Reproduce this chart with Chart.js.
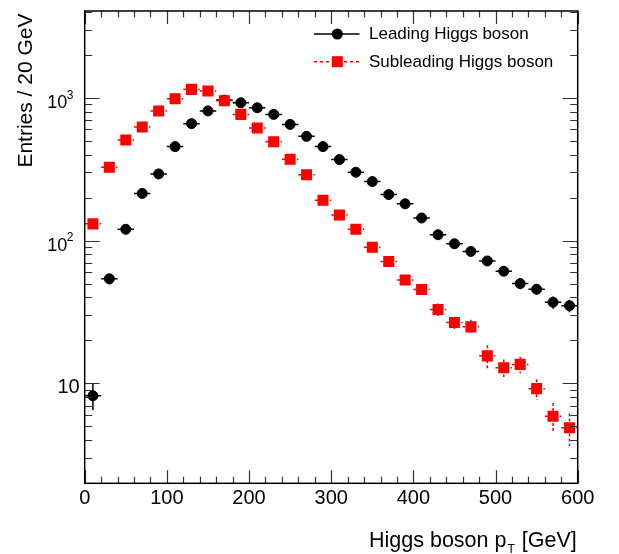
<!DOCTYPE html>
<html>
<head>
<meta charset="utf-8">
<script src="https://cdn.jsdelivr.net/npm/chart.js@4.4.1/dist/chart.umd.min.js"></script>
<style>
  html, body { margin: 0; padding: 0; background: #fff; }
  #wrap { width: 619px; height: 554px; position: relative; }
</style>
</head>
<body>
<div id="wrap"><canvas id="higgsChart"></canvas></div>
<script>
// bin centres, 20 GeV bins
var binCentres = [10, 30, 50, 70, 90, 110, 130, 150, 170, 190, 210, 230, 250, 270, 290,
                  310, 330, 350, 370, 390, 410, 430, 450, 470, 490, 510, 530, 550, 570, 590];
var leadingEntries = [8.2, 54, 120, 214, 293, 455, 659, 809, 963, 923, 851, 765, 651, 537, 455,
                      369, 301, 259, 210, 181, 144, 110, 95, 84, 72, 61, 50, 45.7, 37, 35];
var leadingErrors = [1.7, 4.5, 7, 9, 11, 13, 16, 18, 20, 19, 18, 17, 16, 14, 13,
                     12, 11, 10, 9, 8, 7.5, 6.5, 6, 5.5, 5, 4.5, 4.3, 4, 3.6, 3.5];
var subleadingEntries = [131, 326, 507, 625, 809, 986, 1145, 1114, 953, 765, 614, 493, 371, 289, 192,
                         151, 120, 90, 71.5, 53, 45.5, 33, 26.7, 24.9, 15.6, 12.9, 13.6, 9.2, 5.9, 4.9];
var subleadingErrors = [7, 11, 14, 16, 18, 20, 22, 21, 20, 18, 16, 14, 12, 10, 8,
                        7, 6, 5, 4.5, 4, 3.8, 3.3, 2.6, 3, 2.9, 1.8, 1.8, 1.5, 1.4, 1.25];
var binHalfWidth = 10;
var xTickLabels = ['0', '100', '200', '300', '400', '500', '600'];
var yMajorTicks = [10, 100, 1000];
var yMajorLabels = ['10', '10', '10'];
var yMajorExponents = ['', '2', '3'];

var fontFamily = '"Liberation Sans", Arial, Helvetica, sans-serif';

function makePoints(values, errors){
    var pts = [];
    for(var i=0; i<binCentres.length; i+=1){
        pts.push({x: binCentres[i], y: values[i], err: errors[i]});
    }
    return pts;
}

// error bars, frame, inner ticks, y labels, titles and legend
var rootStylePlugin = {
    id: 'rootStyle',
    beforeDatasetsDraw: function(chart){
        var ctx = chart.ctx;
        var xs = chart.scales.x, ys = chart.scales.y;
        ctx.save();
        chart.data.datasets.forEach(function(ds){
            ctx.strokeStyle = ds.borderColor;
            ctx.lineWidth = 1.5;
            ctx.setLineDash(ds.errDash);
            ds.data.forEach(function(p){
                var px = xs.getPixelForValue(p.x);
                var py = ys.getPixelForValue(p.y);
                ctx.beginPath();
                ctx.moveTo(xs.getPixelForValue(p.x - binHalfWidth), py);
                ctx.lineTo(xs.getPixelForValue(p.x + binHalfWidth), py);
                ctx.moveTo(px, ys.getPixelForValue(p.y + p.err));
                ctx.lineTo(px, ys.getPixelForValue(Math.max(p.y - p.err, 0.01)));
                ctx.stroke();
            });
        });
        ctx.restore();
    },
    afterDraw: function(chart){
        var ctx = chart.ctx;
        var a = chart.chartArea;
        var xs = chart.scales.x, ys = chart.scales.y;
        ctx.save();

        // ticks
        ctx.strokeStyle = '#333';
        ctx.lineWidth = 1.2;
        ctx.setLineDash([]);
        ctx.beginPath();
        for(var v=0; v<=600; v+=20){
            var px = Math.round(xs.getPixelForValue(v)) + 0.5;
            var len = (v % 100 === 0) ? 13 : 6.5;
            ctx.moveTo(px, a.bottom); ctx.lineTo(px, a.bottom - len);
            ctx.moveTo(px, a.top); ctx.lineTo(px, a.top + len);
        }
        for(var d=1; d<=1000; d*=10){
            for(var k=1; k<=9; k+=1){
                var val = k*d;
                if(val < ys.min || val > ys.max) continue;
                var py = Math.round(ys.getPixelForValue(val)) + 0.5;
                var ylen = (k === 1) ? 15 : 7.5;
                ctx.moveTo(a.left, py); ctx.lineTo(a.left + ylen, py);
                ctx.moveTo(a.right, py); ctx.lineTo(a.right - ylen, py);
            }
        }
        ctx.stroke();

        // frame
        ctx.strokeStyle = '#000';
        ctx.lineWidth = 1.5;
        ctx.strokeRect(a.left, a.top, a.right - a.left, a.bottom - a.top);

        // y labels
        ctx.fillStyle = '#000';
        ctx.textBaseline = 'alphabetic';
        for(var i=0; i<yMajorTicks.length; i+=1){
            var ty = ys.getPixelForValue(yMajorTicks[i]);
            if(yMajorExponents[i] === ''){
                ctx.font = '20px ' + fontFamily;
                ctx.textAlign = 'right';
                ctx.fillText(yMajorLabels[i], a.left - 5, ty + 10);
            } else {
                ctx.font = '18px ' + fontFamily;
                ctx.textAlign = 'right';
                ctx.fillText(yMajorLabels[i], a.left - 17.5, ty + 10.5);
                ctx.font = '12px ' + fontFamily;
                ctx.textAlign = 'left';
                ctx.fillText(yMajorExponents[i], a.left - 18, ty + 0.8);
            }
        }

        // x title: Higgs boson p_T [GeV], right aligned to the frame
        var partA = 'Higgs boson p', partB = 'T', partC = ' [GeV]';
        ctx.font = '21.5px ' + fontFamily;
        var wA = ctx.measureText(partA).width, wC = ctx.measureText(partC).width;
        ctx.font = '12px ' + fontFamily;
        var wB = ctx.measureText(partB).width;
        var xEnd = a.right - 1, base = 546.5;
        var x0 = xEnd - wA - wB - wC - 2;
        ctx.textAlign = 'left';
        ctx.font = '21.5px ' + fontFamily;
        ctx.fillText(partA, x0, base);
        ctx.fillText(partC, x0 + wA + wB + 2, base);
        ctx.font = '12px ' + fontFamily;
        ctx.fillText(partB, x0 + wA + 1, base + 6.5);

        // y title
        ctx.save();
        ctx.translate(31.5, 13.5);
        ctx.rotate(-Math.PI/2);
        ctx.font = '21px ' + fontFamily;
        ctx.textAlign = 'right';
        ctx.fillText('Entries / 20 GeV', 0, 0);
        ctx.restore();

        // legend
        var legendItems = [
            {text: 'Leading Higgs boson', y: 34, ds: chart.data.datasets[0]},
            {text: 'Subleading Higgs boson', y: 61.7, ds: chart.data.datasets[1]}
        ];
        legendItems.forEach(function(it){
            ctx.strokeStyle = it.ds.borderColor;
            ctx.lineWidth = 1.5;
            ctx.setLineDash(it.ds.legendDash);
            ctx.beginPath();
            ctx.moveTo(314, it.y); ctx.lineTo(359.5, it.y);
            ctx.stroke();
            ctx.setLineDash([]);
            ctx.fillStyle = it.ds.backgroundColor;
            if(it.ds.pointStyle === 'rect'){
                ctx.fillRect(337.3 - 5.5, it.y - 5.5, 11, 11);
            } else {
                ctx.beginPath();
                ctx.arc(337.3, it.y, 5.5, 0, Math.PI*2);
                ctx.fill();
            }
            ctx.fillStyle = '#000';
            ctx.font = '17px ' + fontFamily;
            ctx.textAlign = 'left';
            ctx.textBaseline = 'middle';
            ctx.fillText(it.text, 369, it.y + 0.5);
        });
        ctx.restore();
    }
};

var canvas = document.getElementById('higgsChart');
var data = {
    datasets: [{
        label: 'Leading Higgs boson',
        data: makePoints(leadingEntries, leadingErrors),
        backgroundColor: '#000000',
        borderColor: '#000000',
        pointStyle: 'circle',
        pointRadius: 5,
        pointBorderWidth: 1,
        pointHoverRadius: 5,
        showLine: false,
        errDash: [],
        legendDash: [],
        order: 2
    }, {
        label: 'Subleading Higgs boson',
        data: makePoints(subleadingEntries, subleadingErrors),
        backgroundColor: '#ff0000',
        borderColor: '#ff0000',
        pointStyle: 'rect',
        pointRadius: 7.8,
        pointBorderWidth: 0,
        pointHoverRadius: 7.8,
        showLine: false,
        errDash: [3, 2],
        legendDash: [3, 3],
        order: 1
    }]
};

var options = {
    responsive: true,
    maintainAspectRatio: false,
    animation: false,
    layout: { padding: { left: 0, right: 41.3, top: 11, bottom: 0 } },
    plugins: {
        legend: { display: false },
        tooltip: { enabled: false }
    },
    scales: {
        x: {
            type: 'linear',
            min: 0,
            max: 600,
            grid: { display: false, drawTicks: false },
            border: { display: false },
            ticks: {
                stepSize: 100,
                padding: 3,
                color: '#000',
                maxRotation: 0,
                font: { family: fontFamily, size: 20 },
                callback: function(value){ return xTickLabels[value / 100]; }
            },
            afterFit: function(scale){ scale.height = 70.7; }
        },
        y: {
            type: 'logarithmic',
            min: 2,
            max: 4050,
            grid: { display: false, drawTicks: false },
            border: { display: false },
            ticks: { display: false },
            afterFit: function(scale){ scale.width = 84.7; }
        }
    }
};

var higgsChart = new Chart(canvas, {
    type: 'scatter',
    data: data,
    options: options,
    plugins: [rootStylePlugin]
});
</script>
</body>
</html>
